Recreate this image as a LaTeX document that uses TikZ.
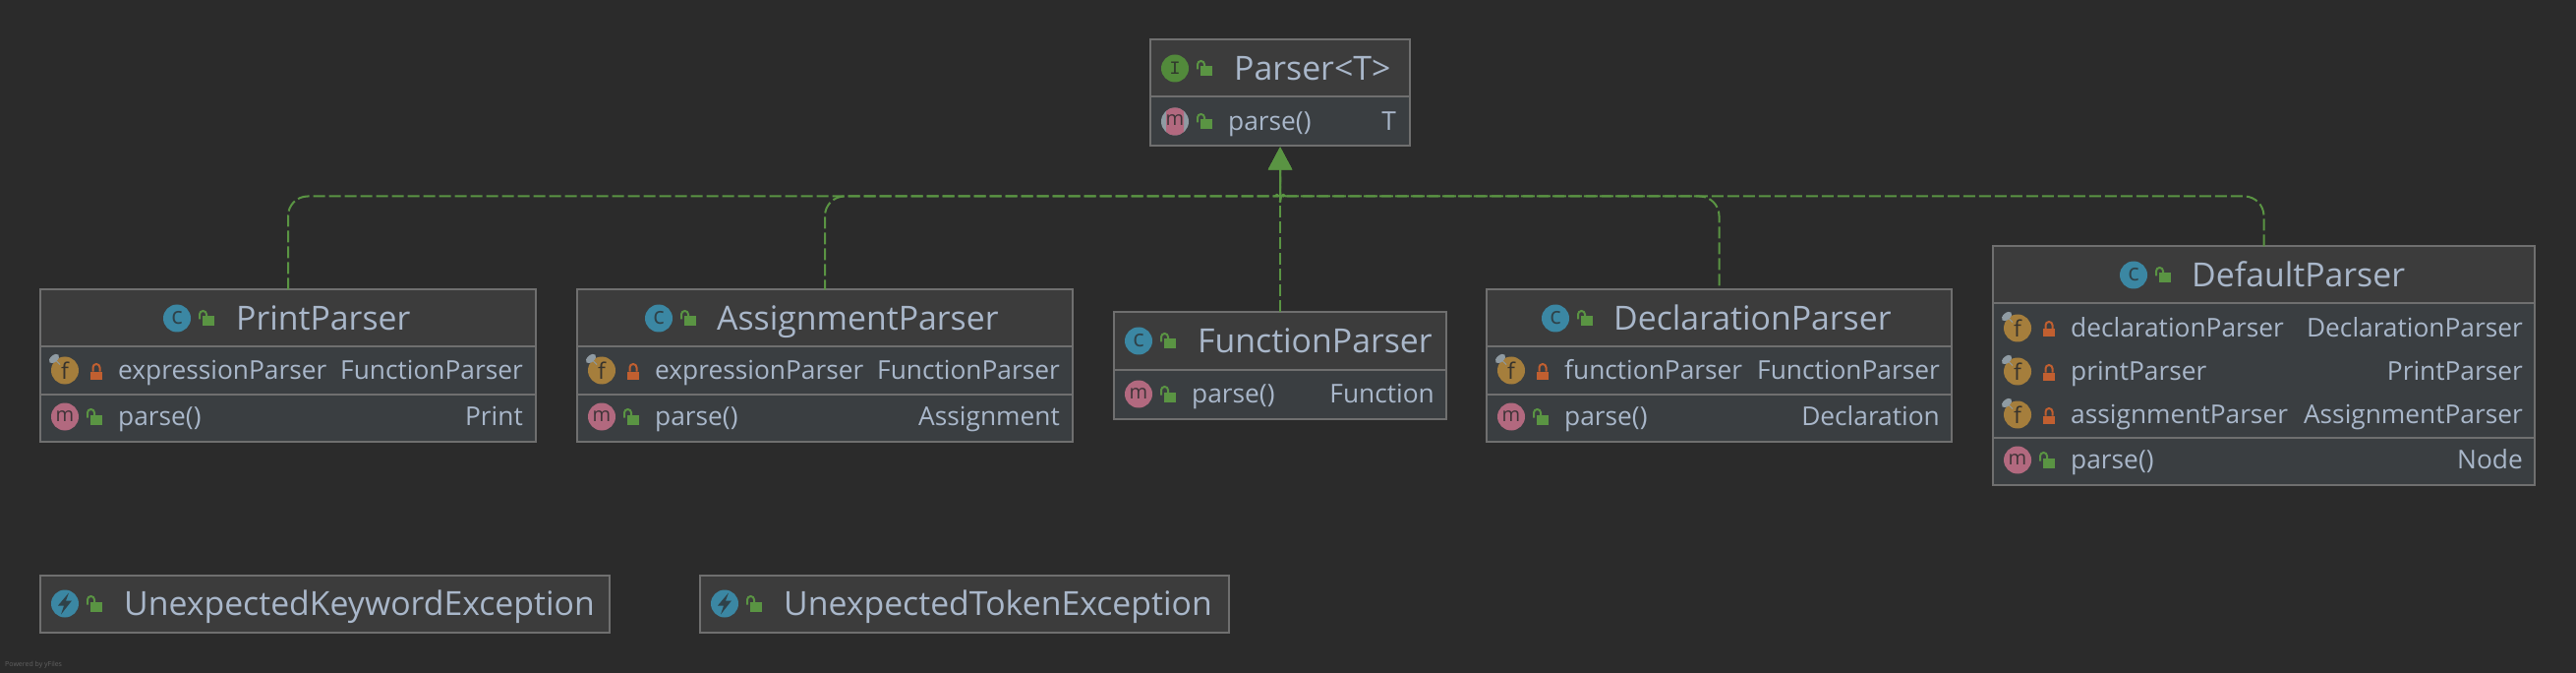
\documentclass[tikz,border=0pt]{standalone}
\usepackage{fontspec}
\setmainfont{Open Sans}
\newfontfamily\iconserif{Liberation Mono}
\usetikzlibrary{arrows.meta}
\definecolor{bgc}{HTML}{2B2B2B}
\definecolor{titlec}{HTML}{3C3C3C}
\definecolor{rowc}{HTML}{3A3E41}
\definecolor{framec}{HTML}{6F6F6F}
\definecolor{textc}{HTML}{A9B7CA}
\definecolor{greenc}{HTML}{5A9443}
\definecolor{redc}{HTML}{C15F30}
\definecolor{cblue}{HTML}{3B87A3}
\definecolor{mpink}{HTML}{B2697F}
\definecolor{fgold}{HTML}{A57E3C}
\definecolor{igreen}{HTML}{528A3B}
\definecolor{pinc}{HTML}{8F9BA3}
\tikzset{
  x=1pt,y=-1pt,
  umlframe/.style={draw=framec,line width=2pt,fill=titlec,inner sep=0pt,outer sep=0pt},
  divider/.style={draw=framec,line width=2pt},
  titletext/.style={text=textc,font=\fontsize{33.8}{34}\selectfont,anchor=base west,inner sep=0pt},
  rowtext/.style={text=textc,font=\fontsize{26.3}{27}\selectfont,anchor=base west,inner sep=0pt},
  typetext/.style={text=textc,font=\fontsize{26.3}{27}\selectfont,anchor=base east,inner sep=0pt},
  implements/.style={draw=greenc,line width=2pt,dash pattern=on 12pt off 4pt,rounded corners=20pt,
    -{Triangle[length=23pt,width=24pt,fill=greenc]},shorten >=1pt},
  icontext/.style={inner sep=0pt},
}
\newcounter{tc}
\newcommand{\umlbox}[6]{% name,l,t,r,b,divider
  \node[umlframe,minimum width=#4pt-#2pt,minimum height=#5pt-#3pt]
    (#1) at ({(#2+#4)/2},{(#3+#5)/2}) {};
  \ifnum#6>0
    \fill[rowc] (#2+1,#6) rectangle (#4-1,#5-1);
    \draw[divider] (#2,#6) -- (#4,#6);
  \fi}
\newcommand{\openlock}[2]{%
  \fill[greenc] (#1,#2-2) rectangle (#1+12,#2+8);
  \draw[greenc,line width=2pt] (#1-3,#2+1) -- (#1-3,#2-4) arc[start angle=180,end angle=0,radius=3.5pt] -- (#1+4,#2-1);}
\newcommand{\closedlock}[2]{%
  \fill[redc] (#1,#2+1) rectangle (#1+12,#2+9);
  \draw[redc,line width=2pt] (#1+2.5,#2+1) -- (#1+2.5,#2-3) arc[start angle=180,end angle=0,radius=3.5pt] -- (#1+9.5,#2+1);}
\newcommand{\lettericon}[5]{% cx,cy,colour,letter,lettercolour
  \fill[#3] (#1,#2) circle[radius=14pt];
  \stepcounter{tc}\node[icontext,text=#5] (t\thetc) at (#1,#2) {#4};}
\newcommand{\classicon}[2]{\lettericon{#1}{#2}{cblue}{\fontsize{24}{24}\selectfont c}{bgc!75!cblue}}
\newcommand{\methodicon}[2]{\lettericon{#1}{#2}{mpink}{\fontsize{20}{20}\selectfont m}{bgc!85!mpink}}
\newcommand{\fieldicon}[2]{\lettericon{#1}{#2}{fgold}{\fontsize{23}{23}\selectfont f}{bgc!90!fgold}%
  \fill[pinc,rotate around={40:(#1-11,#2-12)}] (#1-11,#2-12) ellipse[x radius=6pt,y radius=3.5pt];
  \draw[pinc,line width=1pt] (#1-9,#2-10) -- (#1-5,#2-6);}
\newcommand{\boxtitle}[4]{% icon cx, cy, text x, text
  \classicon{#1}{#2}\openlock{#1+26}{#2}%
  \stepcounter{tc}\node[titletext] (t\thetc) at (#3,#2+12) {#4};}
\newcommand{\fieldrow}[6]{% icon cx, cy, text x, right, name, type
  \fieldicon{#1}{#2}\closedlock{#1+26}{#2}%
  \stepcounter{tc}\node[rowtext] (t\thetc) at (#3,#2+9) {#5};
  \stepcounter{tc}\node[typetext] (t\thetc) at (#4,#2+9) {#6};}
\newcommand{\methodrow}[5]{% icon cx, cy, text x, right, type
  \methodicon{#1}{#2}\openlock{#1+26}{#2}%
  \stepcounter{tc}\node[rowtext] (t\thetc) at (#3,#2+9) {parse()};
  \stepcounter{tc}\node[typetext] (t\thetc) at (#4,#2+9) {#5};}
\newcommand{\bolticon}[2]{%
  \fill[cblue] (#1,#2) circle[radius=14pt];
  \fill[bgc!75!cblue] (#1+4,#2-11) -- (#1-7,#2+2) -- (#1-1,#2+2) -- (#1-4,#2+11) -- (#1+7,#2-3) -- (#1+1,#2-3) -- cycle;}
\begin{document}
\begin{tikzpicture}
\useasboundingbox (0,0) rectangle (2620,684);
\fill[bgc] (0,0) rectangle (2620,684);
\begin{scope}[yshift=0.5pt]
% Parser<T>
\umlbox{parser}{1170}{41}{1434}{149}{99}
\lettericon{1195}{70}{igreen}{\iconserif\fontsize{19}{19}\selectfont I}{bgc!85!igreen}
\openlock{1221}{70}
\stepcounter{tc}\node[titletext] (t\thetc) at (1255,82) {Parser<T>};
\fill[pinc] (1195,124) circle[radius=14pt];
\begin{scope}
  \clip (1186,110) rectangle (1204,138);
  \fill[mpink] (1195,124) circle[radius=14pt];
\end{scope}
\stepcounter{tc}\node[icontext,text=bgc!85!mpink,font=\fontsize{20}{20}\selectfont] (t\thetc) at (1195,123) {m};
\openlock{1221}{124}
\stepcounter{tc}\node[rowtext] (t\thetc) at (1249,133) {parse()};
\stepcounter{tc}\node[typetext] (t\thetc) at (1420,133) {T};
% PrintParser
\umlbox{print}{41}{295}{545}{449}{353}
\boxtitle{180}{324}{240}{PrintParser}
\fieldrow{66}{377}{120}{532}{expressionParser}{FunctionParser}
\draw[divider] (41,401) -- (545,401);
\methodrow{66}{424}{120}{532}{Print}
% AssignmentParser
\umlbox{assign}{587}{295}{1091}{449}{353}
\boxtitle{670}{324}{729}{AssignmentParser}
\fieldrow{612}{377}{666}{1078}{expressionParser}{FunctionParser}
\draw[divider] (587,401) -- (1091,401);
\methodrow{612}{424}{666}{1078}{Assignment}
% FunctionParser
\umlbox{func}{1133}{318}{1471}{426}{376}
\boxtitle{1158}{347}{1218}{FunctionParser}
\methodrow{1158}{401}{1212}{1459}{Function}
% DeclarationParser
\umlbox{decl}{1512}{295}{1985}{449}{353}
\boxtitle{1582}{324}{1641}{DeclarationParser}
\fieldrow{1537}{377}{1591}{1973}{functionParser}{FunctionParser}
\draw[divider] (1512,401) -- (1985,401);
\methodrow{1537}{424}{1591}{1973}{Declaration}
% DefaultParser
\umlbox{default}{2027}{251}{2578}{493}{309}
\boxtitle{2170}{280}{2229}{DefaultParser}
\fieldrow{2052}{334}{2106}{2566}{declarationParser}{DeclarationParser}
\fieldrow{2052}{378}{2106}{2566}{printParser}{PrintParser}
\fieldrow{2052}{422}{2106}{2566}{assignmentParser}{AssignmentParser}
\draw[divider] (2027,445) -- (2578,445);
\methodrow{2052}{468}{2106}{2566}{Node}
% Exceptions
\umlbox{kwex}{41}{585}{620}{643}{0}
\bolticon{66}{614}\openlock{92}{614}
\stepcounter{tc}\node[titletext] (t\thetc) at (126,626) {UnexpectedKeywordException};
\umlbox{tokex}{712}{585}{1250}{643}{0}
\bolticon{737}{614}\openlock{763}{614}
\stepcounter{tc}\node[titletext] (t\thetc) at (797,626) {UnexpectedTokenException};
% connectors
\coordinate (rail) at (1302,200);
\draw[implements] (print.north) |- ([xshift=-22pt]rail) .. controls ([xshift=-8pt]rail) and ([yshift=6pt]rail) .. ([yshift=14pt]rail) -- (parser.south);
\draw[implements,dash phase=2pt] (assign.north) |- ([xshift=-22pt]rail) .. controls ([xshift=-8pt]rail) and ([yshift=6pt]rail) .. ([yshift=14pt]rail) -- (parser.south);
\draw[implements] (func.north) -- (parser.south);
\draw[implements] (default.north) |- ([xshift=22pt]rail) .. controls ([xshift=8pt]rail) and ([yshift=6pt]rail) .. ([yshift=14pt]rail) -- (parser.south);
\draw[implements,dash phase=12pt] (decl.north) |- ([xshift=22pt]rail) .. controls ([xshift=8pt]rail) and ([yshift=6pt]rail) .. ([yshift=14pt]rail) -- (parser.south);
\node[text=framec!80!bgc,font=\fontsize{7}{7}\selectfont,anchor=base west,inner sep=0pt] (yfiles) at (5,678) {Powered by yFiles};
\end{scope}
\end{tikzpicture}
\end{document}
